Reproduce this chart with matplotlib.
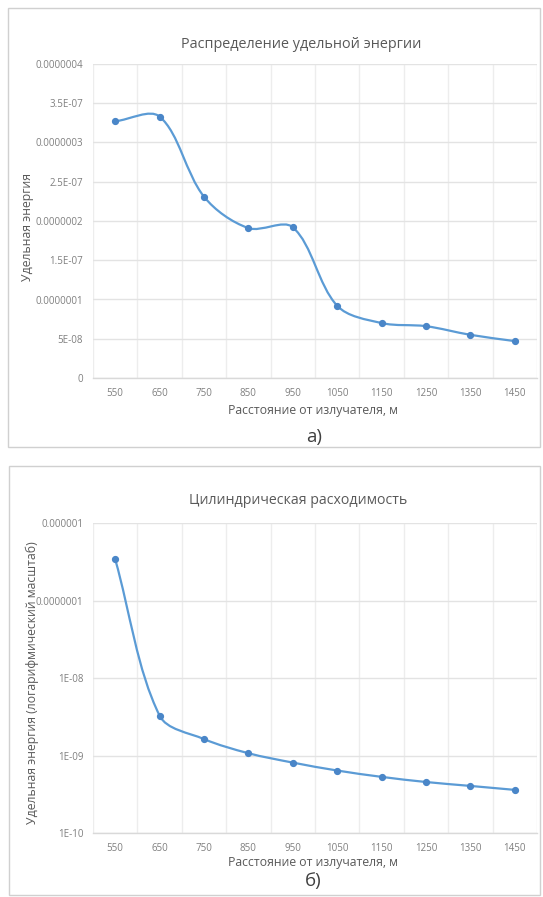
import numpy as np
import matplotlib
matplotlib.use("Agg")
import matplotlib.pyplot as plt
from matplotlib.path import Path
from matplotlib.patches import PathPatch, Rectangle

# ---------------- data ----------------
distances = ["550", "650", "750", "850", "950", "1050", "1150", "1250", "1350", "1450"]
energy_a = [3.27e-7, 3.33e-7, 2.31e-7, 1.91e-7, 1.92e-7, 0.92e-7, 0.70e-7, 0.66e-7, 0.55e-7, 0.47e-7]
energy_b = [3.40e-7, 3.27e-9, 1.63e-9, 1.07e-9, 8.1e-10, 6.4e-10, 5.3e-10, 4.55e-10, 4.05e-10, 3.6e-10]
yticks_a = [0, 5e-8, 1e-7, 1.5e-7, 2e-7, 2.5e-7, 3e-7, 3.5e-7, 4e-7]
yticklabels_a = ["0", "5E-08", "0.0000001", "1.5E-07", "0.0000002", "2.5E-07", "0.0000003", "3.5E-07", "0.0000004"]
yticks_b = [1e-10, 1e-9, 1e-8, 1e-7, 1e-6]
yticklabels_b = ["1E-10", "1E-09", "1E-08", "0.0000001", "0.000001"]
title_a = "Распределение удельной энергии"
title_b = "Цилиндрическая расходимость"
xlabel = "Расстояние от излучателя, м"
ylabel_a = "Удельная энергия"
ylabel_b = "Удельная энергия (логарифмический масштаб)"

plt.rcParams['font.family'] = ['Open Sans', 'DejaVu Sans']

W, H = 543, 897
fig = plt.figure(figsize=(W / 100, H / 100), dpi=100)
fig.patch.set_facecolor("white")

LINE = "#5B9BD5"
MARK = "#4A86C8"
TXT = "#595959"
TICK = "#7F7F7F"


def fx(px):
    return px / W


def fy(py):
    return 1 - py / H


def smooth_path(ax, xs, ys, log=False):
    """Excel-like smoothed line: cubic Bezier with segment-length weighted
    tangents, computed in screen space of the axes."""
    bbox = ax.get_window_extent()
    x0, x1 = ax.get_xlim()
    y0, y1 = ax.get_ylim()
    if log:
        y0, y1 = np.log10(y0), np.log10(y1)
    sx = bbox.width / (x1 - x0)
    sy = bbox.height / (y1 - y0)
    x = np.asarray(xs, float) * sx
    y = (np.log10(ys) if log else np.asarray(ys, float)) * sy
    P = np.column_stack([x, y])
    n = len(P)
    verts = [P[0]]
    codes = [Path.MOVETO]
    for i in range(n - 1):
        p0 = P[i - 1] if i > 0 else P[i]
        p1, p2 = P[i], P[i + 1]
        p3 = P[i + 2] if i + 2 < n else P[i + 1]
        d01 = np.linalg.norm(p1 - p0)
        d12 = np.linalg.norm(p2 - p1)
        d23 = np.linalg.norm(p3 - p2)
        t1 = (p2 - p0)
        t2 = (p3 - p1)
        f1 = d12 / (d01 + d12) if (d01 + d12) > 0 else 0.5
        f2 = d12 / (d12 + d23) if (d12 + d23) > 0 else 0.5
        c1 = p1 + t1 * f1 / 3.0
        c2 = p2 - t2 * f2 / 3.0
        verts += [c1, c2, p2]
        codes += [Path.CURVE4] * 3
    verts = np.array(verts)
    verts[:, 0] /= sx
    verts[:, 1] /= sy
    if log:
        verts[:, 1] = 10 ** verts[:, 1]
    return Path(verts, codes)


def panel(box):
    x0, y0, x1, y1 = box
    r = Rectangle((fx(x0), fy(y1)), fx(x1) - fx(x0), fy(y0) - fy(y1),
                  transform=fig.transFigure, fill=False, edgecolor="#D0D0D0", lw=1.0)
    fig.add_artist(r)


def setup_axes(px_box):
    x0, y0, x1, y1 = px_box
    ax = fig.add_axes([fx(x0), fy(y1), fx(x1) - fx(x0), fy(y0) - fy(y1)])
    for s in ["top", "right", "left"]:
        ax.spines[s].set_visible(False)
    ax.spines["bottom"].set_color("#D9D9D9")
    ax.spines["bottom"].set_linewidth(1.0)
    ax.set_xlim(-0.5, len(distances) - 0.5)
    ax.set_xticks(range(len(distances)), distances)
    ax.set_xticks(np.arange(-0.5, len(distances), 1.0), minor=True)
    ax.tick_params(axis="x", which="major", length=0, labelsize=7, colors=TICK, pad=7)
    ax.tick_params(axis="x", which="minor", length=0)
    ax.tick_params(axis="y", which="both", length=0, labelsize=7, colors=TICK, pad=7)
    ax.grid(True, axis="x", which="minor", color="#EDEDED", lw=1.0)
    ax.grid(True, axis="y", which="major", color="#E3E3E3", lw=1.0)
    ax.set_axisbelow(True)
    return ax


x_idx = np.arange(len(distances))

# ---------------- panel а ----------------
panel((8, 8, 540, 447))
ax1 = setup_axes((93, 64, 537, 378))
ax1.set_ylim(0, 4e-7)
ax1.set_yticks(yticks_a, yticklabels_a)
ax1.add_patch(PathPatch(smooth_path(ax1, x_idx, energy_a), facecolor="none", edgecolor=LINE, lw=1.6, zorder=3))
ax1.plot(x_idx, energy_a, linestyle="none", marker="o", ms=4.2, color=MARK, zorder=4)
fig.text(fx(301), fy(45), title_a, ha="center", va="center", fontsize=10.4, color=TXT)
fig.text(fx(313), fy(410), xlabel, ha="center", va="center", fontsize=8.8, color=TXT)
fig.text(fx(28), fy(227), ylabel_a, ha="center", va="center", rotation=90, fontsize=8.8, color=TXT)
fig.text(fx(314), fy(437), "а)", ha="center", va="center", fontsize=13.5, color="#404040")

# ---------------- panel б ----------------
panel((9, 466, 540, 895))
ax2 = setup_axes((93, 523, 537, 833))
ax2.set_yscale("log")
ax2.set_ylim(1e-10, 1e-6)
ax2.set_yticks(yticks_b, yticklabels_b)
ax2.yaxis.set_minor_locator(matplotlib.ticker.NullLocator())
ax2.set_xticks(np.arange(-0.5, len(distances), 1.0), minor=True)
ax2.add_patch(PathPatch(smooth_path(ax2, x_idx, energy_b, log=True), facecolor="none", edgecolor=LINE, lw=1.6, zorder=3))
ax2.plot(x_idx, energy_b, linestyle="none", marker="o", ms=4.2, color=MARK, zorder=4)
fig.text(fx(298), fy(500), title_b, ha="center", va="center", fontsize=10.2, color=TXT)
fig.text(fx(313), fy(862), xlabel, ha="center", va="center", fontsize=8.8, color=TXT)
fig.text(fx(32), fy(683), ylabel_b, ha="center", va="center", rotation=90, fontsize=8.8, color=TXT)
fig.text(fx(313), fy(881), "б)", ha="center", va="center", fontsize=13.5, color="#404040")

fig.savefig("out.png", dpi=100, facecolor="white")
